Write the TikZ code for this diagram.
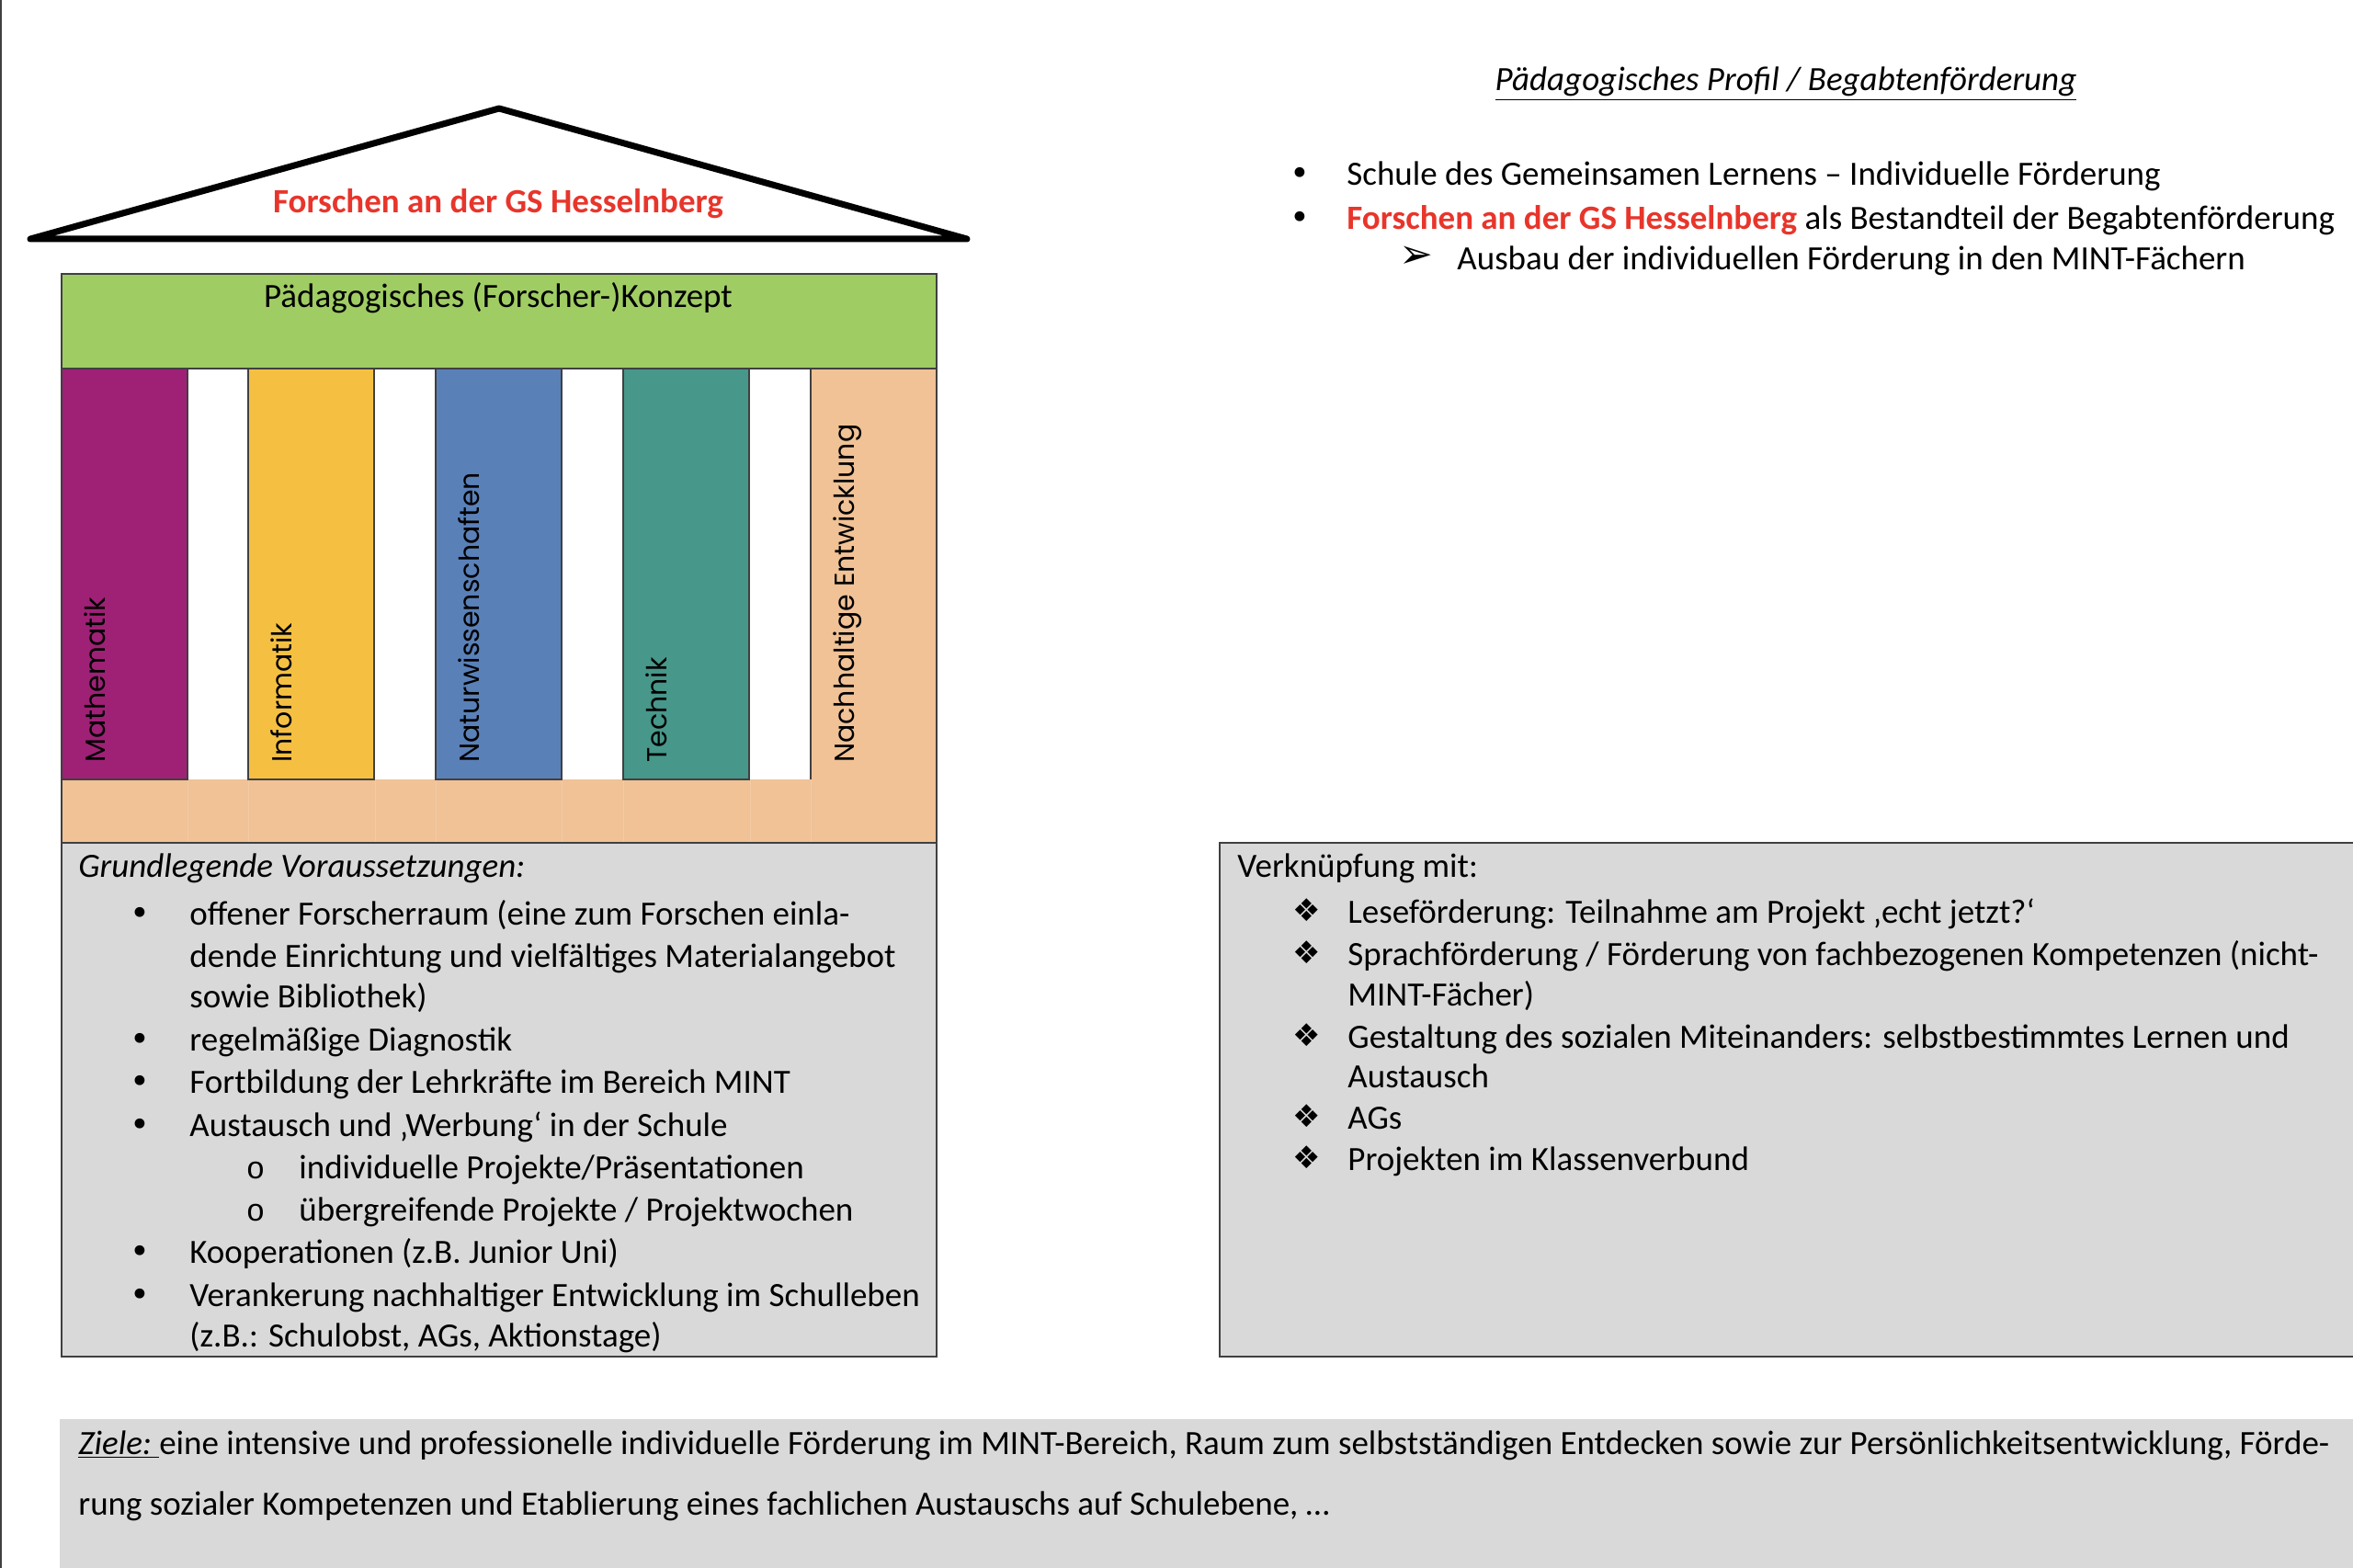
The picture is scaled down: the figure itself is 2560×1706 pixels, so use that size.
\documentclass[tikz,border=0pt]{standalone}
\usepackage{fontspec}
\setmainfont{Carlito}
\newfontfamily\pillarfont{Poppins}
\newfontfamily\symfont{DejaVu Sans}
\newfontfamily\cfont{Liberation Mono}
\definecolor{pmath}{HTML}{9E2176}
\definecolor{pinfo}{HTML}{F5C042}
\definecolor{pnat}{HTML}{5A80B8}
\definecolor{ptech}{HTML}{47978A}
\definecolor{pnach}{HTML}{F0C296}
\definecolor{kgreen}{HTML}{A0CC64}
\definecolor{boxgray}{HTML}{D9D9D9}
\definecolor{roofred}{HTML}{E8352B}
\definecolor{edge}{HTML}{404040}
\newcommand\bodysize{\fontsize{18.5}{22}\selectfont}
\newcommand\pillarsize{\fontsize{15}{18}\selectfont}
\tikzset{
  lbl/.style={font=\bodysize, inner sep=0pt, anchor=mid west},
  ctr/.style={font=\bodysize, inner sep=0pt, anchor=mid},
  bul/.style={font=\bodysize\symfont, inner sep=0pt, anchor=mid},
  arr/.style={font=\fontsize{22}{24}\selectfont\symfont, inner sep=0pt, anchor=mid},
  dia/.style={font=\fontsize{17}{19}\selectfont\symfont, inner sep=0pt, anchor=mid},
  subb/.style={font=\fontsize{17}{19}\selectfont\cfont, inner sep=0pt, anchor=mid},
  pil/.style={font=\pillarsize\pillarfont, inner sep=0pt, rotate=90, anchor=mid west},
  frame/.style={draw=edge, line width=0.75pt},
}
\begin{document}
\begin{tikzpicture}[x=0.5pt,y=-0.5pt]
\useasboundingbox (0,0) rectangle (2560,1706);
\fill[white] (0,0) rectangle (2560,1706);
\draw[edge, line width=1pt] (1,0) -- (1,1706);

% roof
\draw[line width=3.5pt, line join=round, line cap=round] (33,260) -- (543,118) -- (1052,260) -- cycle;
\node[ctr, font=\bodysize\bfseries, text=roofred] (roof) at (542,227) {Forschen an der GS Hesselnberg};

% house body
\fill[kgreen] (67,298) rectangle (1019,401);
\fill[pnach] (67,848) rectangle (1019,917);
\fill[boxgray] (67,917) rectangle (1019,1476);
\foreach \x/\c/\t [count=\i] in {67/pmath/Mathematik, 270/pinfo/Informatik, 474/pnat/Naturwissenschaften, 678/ptech/Technik, 882/pnach/Nachhaltige Entwicklung}{
  \fill[\c] (\x,401) rectangle (\x+137,848);
  \node[pil] (p\i) at (\x+43,830) {\t};
}
\foreach \x in {204,270,408,474,611,678,816,882}
  \draw[white, opacity=0.15, line width=0.4pt] (\x,848) -- (\x,917);
\foreach \x in {67,270,474,678}
  \draw[frame] (\x,401) -- (\x,848) -- (\x+137,848) -- (\x+137,401);
\draw[frame] (882,401) -- (882,848);
\draw[frame] (67,298) rectangle (1019,1476);
\draw[frame] (67,401) -- (1019,401);
\draw[frame] (67,917) -- (1019,917);
\node[ctr] (konzept) at (542,330) {Pädagogisches (Forscher-)Konzept};

% left list
\node[lbl, font=\bodysize\itshape] (gv) at (85,950) {Grundlegende Voraussetzungen:};
\node[bul] (b1) at (152,1002) {•};
\node[lbl] (t1) at (206,1002) {offener Forscherraum (eine zum Forschen einla-};
\node[lbl] (t1b) at (206,1048) {dende Einrichtung und vielfältiges Materialangebot};
\node[lbl] (t1c) at (206,1092) {sowie Bibliothek)};
\node[bul] (b2) at (152,1139) {•};
\node[lbl] (t2) at (206,1139) {regelmäßige Diagnostik};
\node[bul] (b3) at (152,1185) {•};
\node[lbl] (t3) at (206,1185) {Fortbildung der Lehrkräfte im Bereich MINT};
\node[bul] (b4) at (152,1232) {•};
\node[lbl] (t4) at (206,1232) {Austausch und ‚Werbung‘ in der Schule};
\node[subb] (s1) at (278,1278) {o};
\node[lbl] (u1) at (325,1278) {individuelle Projekte/Präsentationen};
\node[subb] (s2) at (278,1324) {o};
\node[lbl] (u2) at (325,1324) {übergreifende Projekte / Projektwochen};
\node[bul] (b5) at (152,1370) {•};
\node[lbl] (t5) at (206,1370) {Kooperationen (z.B. Junior Uni)};
\node[bul] (b6) at (152,1417) {•};
\node[lbl] (t6) at (206,1417) {Verankerung nachhaltiger Entwicklung im Schulleben};
\node[lbl] (t6b) at (206,1461) {(z.B.: Schulobst, AGs, Aktionstage)};

% top right
\node[ctr] (title) at (1943,94) {\underline{\textit{Pädagogisches Profil / Begabtenförderung}}};
\node[bul] (rb1) at (1414,197) {•};
\node[lbl] (r1) at (1465,197) {Schule des Gemeinsamen Lernens – Individuelle Förderung};
\node[bul] (rb2) at (1414,245) {•};
\node[lbl] (r2) at (1465,245) {\textcolor{roofred}{\bfseries Forschen an der GS Hesselnberg} als Bestandteil der Begabtenförderung};
\node[arr] (ra) at (1541,287) {➢};
\node[lbl] (r3) at (1585,289) {Ausbau der individuellen Förderung in den MINT-Fächern};

% right box
\fill[boxgray] (1327,917) rectangle (2560,1476);
\draw[frame] (2562,917) -- (1327,917) -- (1327,1476) -- (2562,1476);
\node[lbl] (vm) at (1346,950) {Verknüpfung mit:};
\node[dia] (d1) at (1422,998) {❖};
\node[lbl] (v1) at (1466,1000) {Leseförderung: Teilnahme am Projekt ‚echt jetzt?‘};
\node[dia] (d2) at (1422,1044) {❖};
\node[lbl] (v2) at (1466,1046) {Sprachförderung / Förderung von fachbezogenen Kompetenzen (nicht-};
\node[lbl] (v2b) at (1466,1090) {MINT-Fächer)};
\node[dia] (d3) at (1422,1134) {❖};
\node[lbl] (v3) at (1466,1136) {Gestaltung des sozialen Miteinanders: selbstbestimmtes Lernen und};
\node[lbl] (v3b) at (1466,1179) {Austausch};
\node[dia] (d4) at (1422,1222) {❖};
\node[lbl] (v4) at (1466,1224) {AGs};
\node[dia] (d5) at (1422,1267) {❖};
\node[lbl] (v5) at (1466,1269) {Projekten im Klassenverbund};

% Ziele
\fill[boxgray] (65,1544) rectangle (2560,1706);
\node[lbl] (z1) at (85,1578) {\underline{\textit{Ziele:}\ }eine intensive und professionelle individuelle Förderung im MINT-Bereich, Raum zum selbstständigen Entdecken sowie zur Persönlichkeitsentwicklung, Förde-};
\node[lbl] (z2) at (85,1644) {rung sozialer Kompetenzen und Etablierung eines fachlichen Austauschs auf Schulebene, …};
\end{tikzpicture}
\end{document}
